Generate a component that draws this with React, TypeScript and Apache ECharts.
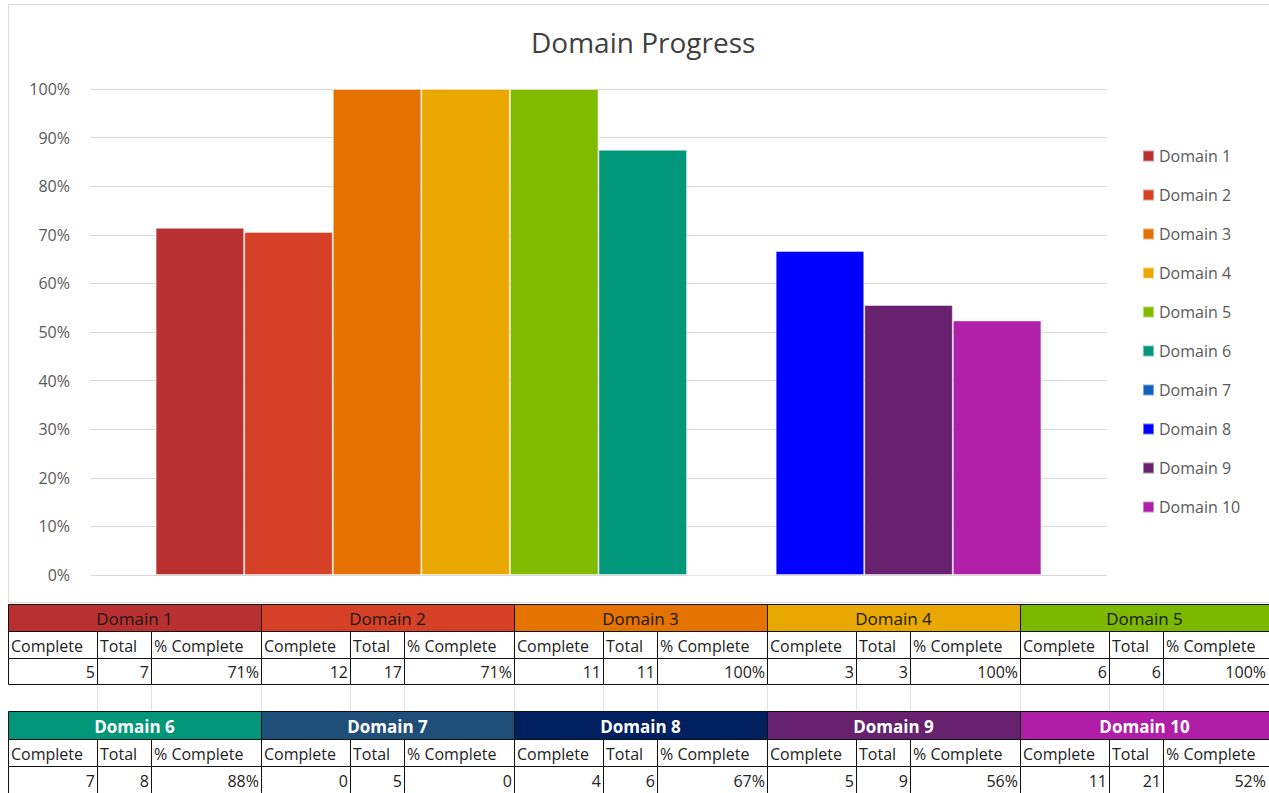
import React, { useEffect, useRef } from "react";
import * as echarts from "echarts";

const domains = ["Domain 1", "Domain 2", "Domain 3", "Domain 4", "Domain 5", "Domain 6", "Domain 7", "Domain 8", "Domain 9", "Domain 10"];
const completeCounts = [5, 12, 11, 3, 6, 7, 0, 4, 5, 11];
const totalCounts = [7, 17, 11, 3, 6, 8, 5, 6, 9, 21];
const pctLabels = ["71%", "71%", "100%", "100%", "100%", "88%", "0", "67%", "56%", "52%"];
const columnLabels = ["Complete", "Total", "% Complete"];
const barColors = ["#B83030", "#D54027", "#E57200", "#E8A800", "#80BB00", "#00977A", "#1560BD", "#0000FF", "#68216F", "#B020A8"];
const headerColors = ["#B93030", "#D64027", "#E57300", "#E9A800", "#7DB800", "#009677", "#1F4E78", "#002060", "#66226E", "#B01EA8"];
const headerTextColors = ["#1a1a1a", "#1a1a1a", "#1a1a1a", "#1a1a1a", "#1a1a1a", "#ffffff", "#ffffff", "#ffffff", "#ffffff", "#ffffff"];

const FONT = "'Open Sans', 'Noto Sans', sans-serif";
const PAGE_W = 1269;
const TABLE_LEFT = 8;
const BLOCK_W = 253;
const COL_W = [89, 54, 110];
const ROW_Y = [604, 631, 658, 684, 711, 739, 766, 793];

function buildTable(): any[] {
  const els: any[] = [];
  const half = 5;
  for (let i = 0; i < domains.length; i++) {
    const band = Math.floor(i / half);
    const bi = i % half;
    const x0 = TABLE_LEFT + bi * BLOCK_W;
    const rowBase = band * 4;
    const yHead = ROW_Y[rowBase];
    const yLab = ROW_Y[rowBase + 1];
    const yVal = ROW_Y[rowBase + 2];
    const yEnd = ROW_Y[rowBase + 3];
    const blockRight = Math.min(x0 + BLOCK_W, PAGE_W);
    els.push({
      type: "rect",
      silent: true,
      shape: { x: x0 + 0.5, y: yHead + 0.5, width: BLOCK_W, height: yLab - yHead },
      style: { fill: headerColors[i], stroke: "#111", lineWidth: 1 },
    });
    els.push({
      type: "text",
      silent: true,
      x: (x0 + blockRight) / 2,
      y: (yHead + yLab) / 2 + 1,
      style: {
        text: domains[i],
        fill: headerTextColors[i],
        fontSize: 17,
        fontFamily: FONT,
        fontWeight: band === 1 ? "bold" : "normal",
        align: "center",
        verticalAlign: "middle",
      },
    });
    let cx = x0;
    const vals = [String(completeCounts[i]), String(totalCounts[i]), pctLabels[i]];
    for (let c = 0; c < 3; c++) {
      const w = COL_W[c];
      const right = Math.min(cx + w, PAGE_W - 1);
      els.push({
        type: "rect",
        silent: true,
        shape: { x: cx + 0.5, y: yLab + 0.5, width: w, height: yVal - yLab },
        style: { fill: "#fff", stroke: "#111", lineWidth: 1 },
      });
      els.push({
        type: "rect",
        silent: true,
        shape: { x: cx + 0.5, y: yVal + 0.5, width: w, height: yEnd - yVal },
        style: { fill: "#fff", stroke: "#111", lineWidth: 1 },
      });
      els.push({
        type: "text",
        silent: true,
        x: cx + 3,
        y: (yLab + yVal) / 2 + 1,
        style: { text: columnLabels[c], fill: "#222", fontSize: 16, fontFamily: FONT, align: "left", verticalAlign: "middle" },
      });
      els.push({
        type: "text",
        silent: true,
        x: right - 2,
        y: (yVal + yEnd) / 2 + 1,
        style: { text: vals[c], fill: "#222", fontSize: 16, fontFamily: FONT, align: "right", verticalAlign: "middle" },
      });
      if (band === 0) {
        els.push({
          type: "line",
          silent: true,
          shape: { x1: cx + w + 0.5, y1: ROW_Y[3] + 1, x2: cx + w + 0.5, y2: ROW_Y[4] },
          style: { stroke: "#e2e2e2", lineWidth: 1 },
        });
      }
      cx += w;
    }
  }
  return els;
}

export default function App() {
  const ref = useRef<HTMLDivElement>(null);
  useEffect(() => {
    document.body.style.margin = "0";
    if (!ref.current) return;
    const chart = echarts.init(ref.current, undefined, { renderer: "svg" });
    const option: any = {
      animation: false,
      backgroundColor: "#ffffff",
      title: {
        text: "Domain Progress",
        left: 526,
        top: 23,
        textStyle: { fontFamily: FONT, fontSize: 28, fontWeight: "normal", color: "#404040" },
      },
      legend: {
        orient: "vertical",
        left: 1137,
        top: 143,
        itemWidth: 11,
        itemHeight: 11,
        itemGap: 23,
        icon: "rect",
        data: domains,
        textStyle: { color: "#595959", fontSize: 16, fontFamily: FONT },
      },
      grid: { left: 90, right: 162, top: 89, bottom: 218 },
      xAxis: {
        type: "category",
        data: [""],
        axisLine: { show: false },
        axisTick: { show: false },
        axisLabel: { show: false },
      },
      yAxis: {
        type: "value",
        min: 0,
        max: 1,
        interval: 0.1,
        axisLine: { show: false },
        axisTick: { show: false },
        axisLabel: {
          formatter: (v: number) => Math.round(v * 100) + "%",
          color: "#595959",
          fontSize: 16,
          fontFamily: FONT,
          margin: 20,
        },
        splitLine: { lineStyle: { color: "#d9d9d9", width: 1 } },
      },
      series: domains.map((d, i) => ({
        type: "bar",
        name: d,
        data: [completeCounts[i] / totalCounts[i]],
        barGap: "0%",
        barCategoryGap: "12.9%",
        itemStyle: { color: barColors[i], borderColor: "rgba(255,255,255,0.45)", borderWidth: 1 },
      })),
      graphic: [
        {
          type: "rect",
          silent: true,
          z: -10,
          shape: { x: 8.5, y: 4.5, width: 1270, height: 598 },
          style: { fill: "none", stroke: "#d9d9d9", lineWidth: 1 },
        },
        ...buildTable(),
      ],
    };
    chart.setOption(option);
    return () => chart.dispose();
  }, []);
  return (
    <div
      ref={ref}
      style={{ position: "absolute", left: 0, top: 0, width: 1269, height: 793, background: "#fff" }}
    />
  );
}
